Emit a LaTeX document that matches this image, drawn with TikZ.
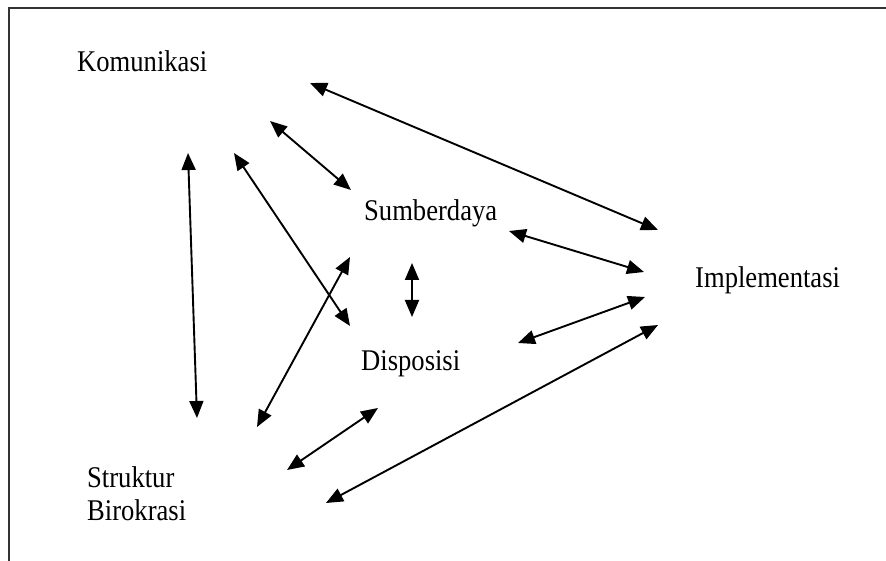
\documentclass[tikz,border=0pt]{standalone}
\usepackage{fontspec}
\setmainfont{Liberation Serif}
\usetikzlibrary{arrows.meta}
\newcommand{\tall}[1]{\scalebox{1}[1.13]{#1}}
\begin{document}
\begin{tikzpicture}[x=1pt,y=-1pt,>={Triangle[length=17pt,width=14pt]},
        lbl/.style={font=\fontsize{26.6}{33}\selectfont,inner sep=0pt,anchor=base west,align=left},
        link/.style={<->,line width=1.9pt,black}]
                \useasboundingbox (0,0) rectangle (886,561);
                \draw[line width=2.5pt,black!80] (886,8)--(9,8)--(9,561);
                % labels
                \node[lbl] (kom) at (77,72) {\tall{Komunikasi}};
                \node[lbl] (sum) at (364,221) {\tall{Sumberdaya}};
                \node[lbl] (imp) at (695,288) {\tall{Implementasi}};
                \node[lbl] (dis) at (361,370) {\tall{Disposisi}};
                \node[lbl] (str) at (87,520) {\tall{Struktur}\\\tall{Birokrasi}};
                % arrow ends
                \coordinate (kom-imp) at (310,83);   \coordinate (imp-kom) at (658,230);
                \coordinate (kom-sum) at (270,121);  \coordinate (sum-kom) at (351,190);
                \coordinate (kom-str) at (188,153);  \coordinate (str-kom) at (197,418);
                \coordinate (kom-dis) at (234,153);  \coordinate (dis-kom) at (350,326);
                \coordinate (str-sum) at (257,427);  \coordinate (sum-str) at (350,257);
                \coordinate (sum-dis) at (412,263);  \coordinate (dis-sum) at (412,317);
                \coordinate (sum-imp) at (509,231);  \coordinate (imp-sum) at (644,272);
                \coordinate (dis-imp) at (518,343);  \coordinate (imp-dis) at (645,297);
                \coordinate (str-imp) at (326,503);  \coordinate (imp-str) at (658,325);
                \coordinate (str-dis) at (287,470);  \coordinate (dis-str) at (378,408);
                \foreach \a/\b in {kom/imp,kom/sum,kom/str,kom/dis,str/sum,sum/dis,sum/imp,dis/imp,str/imp,str/dis}
                    \draw[link] (\a-\b)--(\b-\a);
            \end{tikzpicture}
\end{document}
